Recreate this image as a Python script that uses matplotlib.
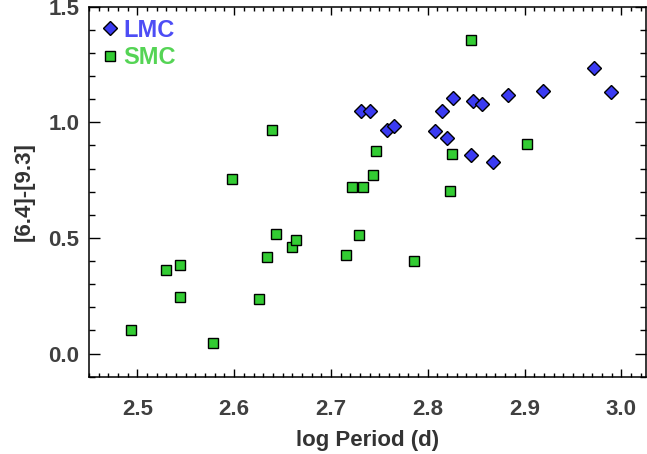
import matplotlib
matplotlib.use("Agg")
import matplotlib.pyplot as plt
from matplotlib.ticker import MultipleLocator

plt.rcParams['font.family'] = ['Liberation Sans', 'DejaVu Sans']
plt.rcParams['font.weight'] = 'bold'

# LMC data (log Period, [6.4]-[9.3])
lmc_logp = [2.731, 2.740, 2.758, 2.765, 2.808, 2.815, 2.820, 2.826, 2.845, 2.847,
            2.856, 2.867, 2.883, 2.919, 2.972, 2.989]
lmc_color = [1.051, 1.051, 0.968, 0.983, 0.964, 1.051, 0.933, 1.104, 0.860, 1.092,
             1.080, 0.829, 1.117, 1.134, 1.236, 1.130]

# SMC data
smc_logp = [2.639, 2.598, 2.722, 2.733, 2.743, 2.747, 2.845, 2.825, 2.903, 2.823,
            2.530, 2.544, 2.544, 2.493, 2.578, 2.634, 2.643, 2.660, 2.664, 2.626,
            2.716, 2.729, 2.786]
smc_color = [0.968, 0.755, 0.719, 0.719, 0.774, 0.878, 1.358, 0.865, 0.905, 0.705,
             0.360, 0.382, 0.243, 0.102, 0.045, 0.418, 0.517, 0.460, 0.489, 0.236,
             0.425, 0.511, 0.402]

x_ticks = [2.5, 2.6, 2.7, 2.8, 2.9, 3.0]
y_ticks = [0.0, 0.5, 1.0, 1.5]

fig = plt.figure(figsize=(6.47, 4.54), dpi=100)
ax = fig.add_axes([89/647, 1 - 376.7/454, (646 - 89)/647, (376.7 - 6.7)/454])

lmc_face = '#3b3bf2'
smc_face = '#33cc33'

ax.plot(lmc_logp, lmc_color, linestyle='none', marker='D', markersize=7.4,
        markerfacecolor=lmc_face, markeredgecolor='black', markeredgewidth=1.0,
        label='LMC', zorder=3)
ax.plot(smc_logp, smc_color, linestyle='none', marker='s', markersize=7.2,
        markerfacecolor=smc_face, markeredgecolor='black', markeredgewidth=1.0,
        label='SMC', zorder=3)

ax.set_xlim(2.45, 3.0255)
ax.set_ylim(-0.1, 1.5)
ax.set_xticks(x_ticks)
ax.set_xticklabels([f'{v:.1f}' for v in x_ticks])
ax.set_yticks(y_ticks)
ax.set_yticklabels([f'{v:.1f}' for v in y_ticks])
ax.xaxis.set_minor_locator(MultipleLocator(0.01))
ax.yaxis.set_minor_locator(MultipleLocator(0.1))

tick_color = '#404040'
ax.tick_params(which='both', direction='in', top=True, right=True, width=1.0,
               color='black')
ax.tick_params(axis='x', which='major', length=6, pad=16, labelsize=16,
               labelcolor=tick_color)
ax.tick_params(axis='x', which='minor', length=3)
ax.tick_params(axis='y', which='major', length=8, pad=7, labelsize=16,
               labelcolor=tick_color)
ax.tick_params(axis='y', which='minor', length=4)
for lab in ax.get_xticklabels() + ax.get_yticklabels():
    lab.set_fontweight('bold')

for s in ax.spines.values():
    s.set_linewidth(1.1)

ax.set_xlabel('log Period (d)', fontsize=16, fontweight='bold', color='#333333',
              labelpad=7)
ax.set_ylabel('[6.4]-[9.3]', fontsize=16, fontweight='bold', color='#333333',
              labelpad=10)

leg = ax.legend(loc='upper left', frameon=False, handlelength=0.8,
                handletextpad=0.15, borderaxespad=0.2, labelspacing=0.2,
                borderpad=0.3, prop={'weight': 'bold', 'size': 17})
for txt, col in zip(leg.get_texts(), ['#4d4df5', '#55d455']):
    txt.set_color(col)

fig.savefig('out.png', dpi=100)
